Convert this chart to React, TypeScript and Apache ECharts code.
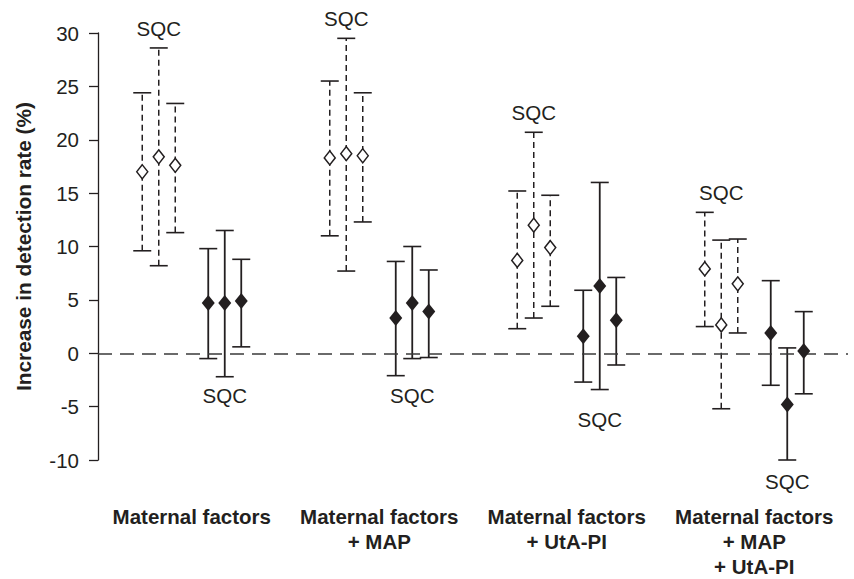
import React, { useEffect, useRef } from "react";
import * as echarts from "echarts";

const groupLabels = [
  "Maternal factors",
  "Maternal factors\n+ MAP",
  "Maternal factors\n+ UtA-PI",
  "Maternal factors\n+ MAP\n+ UtA-PI",
];

// Open diamonds (dashed error bars), 3 per group
const openMean = [
  [17.0, 18.4, 17.6],
  [18.3, 18.7, 18.5],
  [8.7, 12.0, 9.9],
  [7.9, 2.65, 6.5],
];
const openLow = [
  [9.6, 8.2, 11.3],
  [11.0, 7.7, 12.3],
  [2.3, 3.3, 4.4],
  [2.5, -5.2, 1.9],
];
const openHigh = [
  [24.4, 28.6, 23.4],
  [25.5, 29.5, 24.4],
  [15.2, 20.7, 14.8],
  [13.2, 10.6, 10.7],
];

// Filled diamonds (solid error bars), 3 per group
const filledMean = [
  [4.7, 4.7, 4.9],
  [3.3, 4.7, 3.9],
  [1.6, 6.3, 3.1],
  [1.9, -4.8, 0.2],
];
const filledLow = [
  [-0.5, -2.2, 0.6],
  [-2.1, -0.5, -0.4],
  [-2.7, -3.4, -1.1],
  [-3.0, -10.0, -3.8],
];
const filledHigh = [
  [9.8, 11.5, 8.8],
  [8.6, 10.0, 7.8],
  [5.9, 16.0, 7.1],
  [6.8, 0.5, 3.9],
];

// SQC annotation anchors (y in data units)
const sqcTopY = [30.45, 31.35, 22.55, 15.1];
const sqcBottomY = [-4.0, -4.0, -6.25, -12.05];

const yTicks = { min: -10, max: 30, interval: 5 };

const STEP = 0.088;
const openOffsets = [-3, -2, -1].map((k) => k * STEP);
const filledOffsets = [1, 2, 3].map((k) => k * STEP);
const INK = "#231f20";
const FONT = "'Liberation Sans', Arial, sans-serif";

export default function App() {
  const ref = useRef<HTMLDivElement>(null);

  useEffect(() => {
    if (!ref.current) return;
    const chart = echarts.init(ref.current, undefined, { renderer: "svg" });

    const openBars: number[][] = [];
    const openPts: number[][] = [];
    const filledBars: number[][] = [];
    const filledPts: number[][] = [];
    groupLabels.forEach((_, g) => {
      for (let i = 0; i < 3; i++) {
        const xo = g + 1 + openOffsets[i];
        openBars.push([xo, openLow[g][i], openHigh[g][i]]);
        openPts.push([xo, openMean[g][i]]);
        const xf = g + 1 + filledOffsets[i];
        filledBars.push([xf, filledLow[g][i], filledHigh[g][i]]);
        filledPts.push([xf, filledMean[g][i]]);
      }
    });
    const sqcTop = sqcTopY.map((y, g) => [g + 1 + openOffsets[1], y]);
    const sqcBottom = sqcBottomY.map((y, g) => [g + 1 + filledOffsets[1], y]);

    const makeRender = (dashed: boolean) => (params: any, api: any) => {
      const x = api.value(0);
      const lo = api.coord([x, api.value(1)]);
      const hi = api.coord([x, api.value(2)]);
      const hw = 9;
      const base = { stroke: INK, lineWidth: dashed ? 1.5 : 1.8 };
      const cap = { stroke: INK, lineWidth: 1.6 };
      return {
        type: "group",
        children: [
          {
            type: "line",
            shape: { x1: lo[0], y1: lo[1], x2: hi[0], y2: hi[1] },
            style: dashed ? { ...base, lineDash: [6, 4] } : base,
          },
          {
            type: "line",
            shape: { x1: hi[0] - hw, y1: hi[1], x2: hi[0] + hw, y2: hi[1] },
            style: cap,
          },
          {
            type: "line",
            shape: { x1: lo[0] - hw, y1: lo[1], x2: lo[0] + hw, y2: lo[1] },
            style: cap,
          },
        ],
      };
    };

    const sqcLabel = {
      show: true,
      position: "inside",
      formatter: "SQC",
      fontSize: 20.5,
      color: INK,
      fontFamily: FONT,
    };

    chart.setOption({
      animation: false,
      grid: { left: 98, right: 6, top: 33, bottom: 115.7 },
      xAxis: {
        type: "value",
        min: 0.5,
        max: 4.5,
        axisLine: { show: false },
        axisTick: { show: false },
        splitLine: { show: false },
        axisLabel: {
          customValues: [1, 2, 3, 4],
          formatter: (v: number) => groupLabels[Math.round(v) - 1] ?? "",
          fontSize: 20.5,
          fontWeight: "bold",
          lineHeight: 25,
          color: INK,
          fontFamily: FONT,
          margin: 44,
        },
      },
      yAxis: {
        type: "value",
        min: yTicks.min,
        max: yTicks.max,
        interval: yTicks.interval,
        name: "Increase in detection rate (%)",
        nameLocation: "middle",
        nameGap: 64,
        nameTextStyle: {
          fontSize: 20.8,
          fontWeight: "bold",
          color: INK,
          fontFamily: FONT,
        },
        axisLine: { show: true, lineStyle: { color: INK, width: 1.3 } },
        axisTick: { show: true, length: 9, lineStyle: { color: INK, width: 1.3 } },
        splitLine: { show: false },
        axisLabel: { fontSize: 20.5, color: INK, fontFamily: FONT, margin: 19 },
      },
      series: [
        {
          type: "custom",
          renderItem: makeRender(true),
          data: openBars,
          clip: false,
          z: 2,
          markLine: {
            silent: true,
            symbol: "none",
            label: { show: false },
            lineStyle: { color: "#3a3a3a", width: 1.5, type: [14, 8] },
            data: [{ yAxis: 0 }],
          },
        },
        {
          type: "custom",
          renderItem: makeRender(false),
          data: filledBars,
          clip: false,
          z: 2,
        },
        {
          type: "scatter",
          data: openPts,
          symbol: "diamond",
          symbolSize: [11, 14],
          itemStyle: { color: "#ffffff", borderColor: INK, borderWidth: 1.5, opacity: 1 },
          z: 5,
        },
        {
          type: "scatter",
          data: filledPts,
          symbol: "diamond",
          symbolSize: [13, 16],
          itemStyle: { color: INK, opacity: 1 },
          z: 5,
        },
        {
          type: "scatter",
          data: sqcTop,
          symbolSize: 0,
          clip: false,
          itemStyle: { opacity: 1 },
          label: sqcLabel,
        },
        {
          type: "scatter",
          data: sqcBottom,
          symbolSize: 0,
          clip: false,
          itemStyle: { opacity: 1 },
          label: sqcLabel,
        },
      ],
    });

    return () => chart.dispose();
  }, []);

  return (
    <div
      ref={ref}
      style={{ position: "fixed", left: 0, top: 0, width: 854, height: 579, background: "#fff" }}
    />
  );
}
